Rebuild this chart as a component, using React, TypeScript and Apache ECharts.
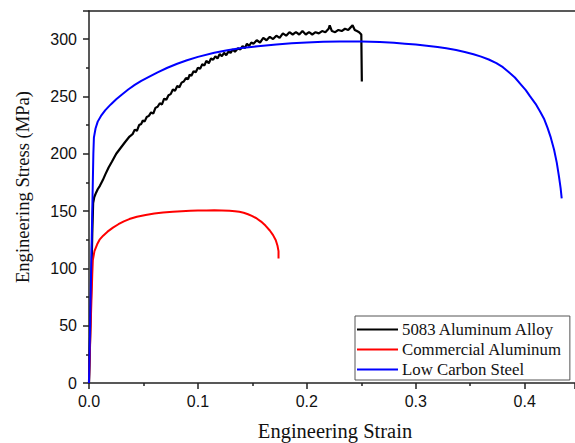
import React, { useEffect, useRef } from "react";
import * as echarts from "echarts";

const seriesNames = ["5083 Aluminum Alloy", "Commercial Aluminum", "Low Carbon Steel"];
const seriesColors = ["#000000", "#ff0000", "#0000ff"];

const alloy5083: [number, number][] = [
  [0, 0], [0.0015, 60], [0.003, 130], [0.0038, 157], [0.0048, 162], [0.0065, 166], [0.008, 169],
  [0.010, 172], [0.0127, 177], [0.015, 182], [0.018, 188], [0.021, 193], [0.025, 200],
  [0.029, 205], [0.033, 210], [0.0372, 215], [0.040, 217], [0.042, 221], [0.044, 220],
  [0.046, 225], [0.048, 226], [0.0494, 229], [0.051, 228], [0.053, 232], [0.055, 233],
  [0.057, 236], [0.059, 235], [0.061, 240], [0.063, 241], [0.065, 244], [0.067, 243],
  [0.069, 248], [0.071, 247], [0.073, 251], [0.075, 252], [0.077, 256], [0.079, 255],
  [0.081, 259], [0.083, 258], [0.085, 262], [0.087, 263], [0.089, 266], [0.091, 265],
  [0.0924, 269], [0.094, 268], [0.096, 272], [0.098, 271], [0.100, 275], [0.102, 274],
  [0.104, 278], [0.106, 277], [0.1077, 281], [0.110, 279], [0.112, 283], [0.114, 282],
  [0.116, 285], [0.118, 283], [0.120, 287], [0.122, 285], [0.124, 288], [0.126, 286],
  [0.128, 289], [0.130, 288], [0.132, 291], [0.134, 289], [0.1368, 292], [0.139, 291],
  [0.141, 294], [0.143, 292], [0.145, 296], [0.147, 294], [0.149, 297], [0.151, 296],
  [0.154, 299], [0.157, 297], [0.160, 301], [0.163, 299], [0.166, 302], [0.169, 300],
  [0.172, 303], [0.175, 301], [0.178, 305], [0.181, 303], [0.184, 306], [0.187, 304],
  [0.190, 306], [0.193, 304], [0.196, 307], [0.199, 304], [0.202, 306], [0.205, 304],
  [0.208, 306], [0.211, 305], [0.214, 307], [0.217, 306], [0.220, 309], [0.221, 312],
  [0.223, 307], [0.226, 306], [0.229, 308], [0.232, 307], [0.235, 309], [0.238, 308],
  [0.240, 310], [0.242, 312], [0.244, 308], [0.246, 307], [0.248, 306], [0.250, 304],
  [0.2505, 263],
];

const commercialAl: [number, number][] = [
  [0, 0], [0.0015, 50], [0.003, 95], [0.0035, 107], [0.005, 115], [0.0075, 121],
  [0.0097, 125], [0.013, 128.5], [0.017, 132], [0.022, 135.5], [0.027, 138.5], [0.032, 141],
  [0.037, 143], [0.044, 145], [0.052, 146.6], [0.06, 147.8], [0.068, 148.7], [0.077, 149.4],
  [0.085, 149.9], [0.093, 150.2], [0.1, 150.4], [0.108, 150.5], [0.115, 150.6], [0.122, 150.5],
  [0.129, 150.3], [0.134, 149.9], [0.138, 149.3], [0.142, 148.5], [0.146, 147.2], [0.15, 145.6],
  [0.154, 143.5], [0.158, 140.8], [0.162, 137.3], [0.166, 133], [0.169, 129], [0.1715, 124.5],
  [0.173, 120], [0.174, 115], [0.174, 108.5],
];

const lowCarbonSteel: [number, number][] = [
  [0, 0], [0.002, 100], [0.004, 200], [0.0045, 214], [0.006, 222], [0.008, 228],
  [0.011, 233], [0.015, 238], [0.02, 243], [0.025, 247.5], [0.03, 251.5], [0.036, 256],
  [0.042, 260], [0.048, 263.5], [0.055, 267], [0.063, 271], [0.072, 275], [0.081, 278.5],
  [0.09, 281.5], [0.1, 284.5], [0.115, 288], [0.127, 290.3], [0.14, 292.2], [0.155, 293.8],
  [0.172, 295.3], [0.186, 296.3], [0.2, 297], [0.215, 297.6], [0.23, 297.9], [0.25, 297.9],
  [0.267, 297.4], [0.28, 296.7], [0.29, 296], [0.3, 295.2], [0.31, 294.2], [0.32, 293.1],
  [0.328, 292], [0.337, 290.5], [0.345, 288.8], [0.353, 286.8], [0.36, 284.7], [0.367, 282.2],
  [0.374, 279], [0.38, 275.5], [0.385, 271.5], [0.391, 266.5], [0.396, 261], [0.401, 255.5],
  [0.405, 250], [0.41, 243.5], [0.414, 237], [0.418, 230], [0.421, 222.5], [0.424, 214],
  [0.427, 203.5], [0.4295, 192], [0.4315, 180], [0.433, 170], [0.434, 161],
];

const xTitle = "Engineering Strain";
const yTitle = "Engineering Stress (MPa)";

export default function App() {
  const ref = useRef<HTMLDivElement>(null);
  useEffect(() => {
    const chart = echarts.init(ref.current!, null, { renderer: "svg" });
    const axisColor = "#222";
    const data = [alloy5083, commercialAl, lowCarbonSteel];
    const widths = [2.2, 2, 2];
    chart.setOption({
      animation: false,
      backgroundColor: "#ffffff",
      grid: { left: 89, right: 0, top: 11, bottom: 60 },
      xAxis: [
        {
          type: "value",
          min: 0,
          max: 0.4462,
          interval: 0.1,
          position: "bottom",
          axisLine: { show: true, onZero: false, lineStyle: { color: axisColor, width: 1.5 } },
          axisTick: { show: true, inside: false, length: 6, lineStyle: { color: axisColor, width: 1.5 } },
          minorTick: { show: true, splitNumber: 2, length: 3, lineStyle: { color: axisColor, width: 1.5 } },
          splitLine: { show: false },
          axisLabel: {
            margin: 10,
            fontFamily: "Liberation Sans, Arial, sans-serif",
            fontSize: 16,
            color: "#111",
            showMaxLabel: false,
            formatter: (v: number) => v.toFixed(1),
          },
        },
        {
          type: "value",
          min: 0,
          max: 0.4462,
          position: "top",
          axisLine: { show: true, onZero: false, lineStyle: { color: axisColor, width: 1.5 } },
          axisTick: { show: false },
          axisLabel: { show: false },
          splitLine: { show: false },
        },
      ],
      yAxis: {
        type: "value",
        min: 0,
        max: 324.5,
        interval: 50,
        axisLine: { show: true, onZero: false, lineStyle: { color: axisColor, width: 1.5 } },
        axisTick: { show: true, inside: false, length: 6, lineStyle: { color: axisColor, width: 1.5 } },
        minorTick: { show: true, splitNumber: 2, length: 3, lineStyle: { color: axisColor, width: 1.5 } },
        splitLine: { show: false },
        axisLabel: {
          margin: 12,
          fontFamily: "Liberation Sans, Arial, sans-serif",
          fontSize: 16,
          color: "#111",
          showMaxLabel: false,
        },
      },
      legend: {
        orient: "vertical",
        left: 355,
        top: 316,
        padding: [5, 8, 2, 2],
        itemWidth: 41,
        itemHeight: 2,
        itemGap: 3,
        icon: "rect",
        borderColor: "#555",
        borderWidth: 1,
        backgroundColor: "#fff",
        textStyle: {
          fontFamily: "Liberation Serif, Times New Roman, serif",
          fontSize: 16.8,
          lineHeight: 17,
          color: "#111",
          padding: [0, 0, 0, -1],
        },
        data: seriesNames,
      },
      series: seriesNames.map((name, i) => ({
        name,
        type: "line",
        data: data[i],
        symbol: "none",
        showSymbol: false,
        color: seriesColors[i],
        lineStyle: { color: seriesColors[i], width: widths[i] },
        z: 2 + i,
      })),
      graphic: [
        {
          type: "text",
          x: 22,
          y: 187,
          rotation: Math.PI / 2,
          style: {
            text: yTitle,
            fill: "#111",
            font: "18.6px 'Liberation Serif', 'Times New Roman', serif",
            textAlign: "center",
            textVerticalAlign: "middle",
          },
        },
        {
          type: "text",
          x: 335,
          y: 431,
          style: {
            text: xTitle,
            fill: "#111",
            font: "20.5px 'Liberation Serif', 'Times New Roman', serif",
            textAlign: "center",
            textVerticalAlign: "middle",
          },
        },
      ],
    });
    return () => chart.dispose();
  }, []);
  return (
    <div
      ref={ref}
      style={{ position: "fixed", left: 0, top: 0, width: 575, height: 443, background: "#fff" }}
    />
  );
}
